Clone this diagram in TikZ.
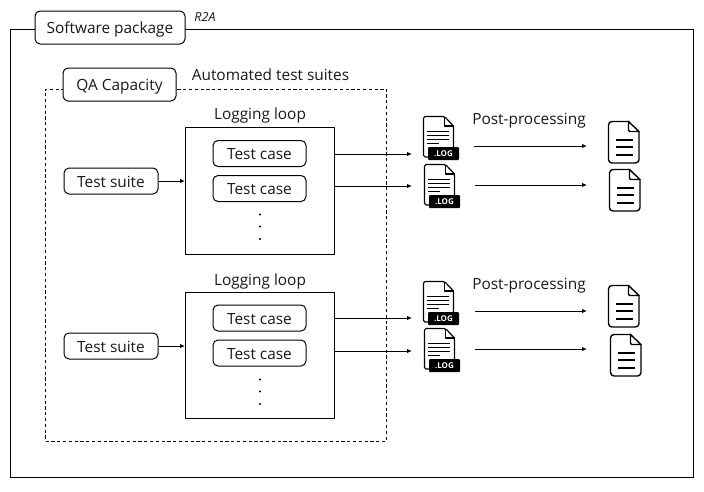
\documentclass[tikz,border=0pt]{standalone}
\usepackage{fontspec}
\setmainfont{Open Sans}
\usetikzlibrary{arrows.meta}
\tikzset{
  x=1pt,y=-1pt,
  every node/.style={font=\fontsize{15.4pt}{18pt}\selectfont,inner sep=0pt,text=black!90},
  lbl/.style={anchor=center,text height=12pt,text depth=0pt},
  roundbox/.style={draw=black,line width=1pt,rounded corners=5pt,fill=white,anchor=center,text height=12pt,text depth=0pt},
  framebox/.style={draw=black,line width=1pt,anchor=north west},
  conn/.style={draw=black,line width=1pt,-{Latex[length=5pt,width=4.5pt]}},
  logicon/.pic={
    \draw[line width=1.2pt,rounded corners=1.6pt,line join=round] (5,41) -- (0.5,41) -- (0.5,0.5) -- (21.5,0.5) -- (30.5,10) -- (30.5,32);
    \draw[line width=1.2pt,line join=round] (21.5,0.5) -- (21.5,10) -- (30.5,10);
    \foreach \yy/\xe in {15/26,19/26,23/26,27/16}{\draw[line width=1pt] (4,\yy) -- (\xe,\yy);}
    \fill[black,rounded corners=1pt] (5,31) rectangle (36,44);
    \node[text=white,font=\fontsize{8pt}{9pt}\selectfont\bfseries] at (20.5,38) {.LOG};
  },
  docicon/.pic={
    \draw[line width=1.4pt,rounded corners=3.5pt,line join=round] (21,0.5) -- (0.5,0.5) -- (0.5,42) -- (31,42) -- (31,10);
    \draw[line width=1.4pt,line join=round] (20.5,0.5) -- (31,10.5) -- (21.5,10.5) -- (20.5,9) -- cycle;
    \foreach \yy in {19,26,34}{\draw[line width=1.1pt] (8,\yy) -- (25,\yy);}
  }
}
\begin{document}
\begin{tikzpicture}
\useasboundingbox (0,0) rectangle (704,491);
\node[framebox,minimum width=683pt,minimum height=448pt] (outer) at (10,29) {};
\node[roundbox,minimum width=150pt,minimum height=33pt] (pkg) at (110,27.5) {Software package};
\node[lbl,text height=9pt,font=\fontsize{12.5pt}{14pt}\selectfont\itshape] (r2a) at (205,17) {R2A};
\node[framebox,dashed,dash pattern=on 3.2pt off 2.6pt,minimum width=341pt,minimum height=352pt] (qa) at (45,88.5) {};
\node[roundbox,minimum width=113pt,minimum height=33pt] (qacap) at (119.5,84.5) {QA Capacity};
\node[lbl] (auto) at (270.5,74) {Automated test suites};
%
\node[lbl] (ll1) at (260,113) {Logging loop};
\node[framebox,minimum width=149pt,minimum height=127pt] (loop1) at (185,127) {};
\node[roundbox,minimum width=93pt,minimum height=26pt] (tc1) at (259.5,153.5) {Test case};
\node[roundbox,minimum width=93pt,minimum height=26pt] (tc2) at (259.5,188.5) {Test case};
\node[roundbox,minimum width=94pt,minimum height=26pt] (ts1) at (111,181) {Test suite};
\fill (260,214.5) circle (1.1pt) (260,226.5) circle (1.1pt) (260,239) circle (1.1pt);
%
\node[lbl] (ll2) at (260,279) {Logging loop};
\node[framebox,minimum width=149pt,minimum height=126pt] (loop2) at (185,292) {};
\node[roundbox,minimum width=93pt,minimum height=26pt] (tc3) at (259.5,318) {Test case};
\node[roundbox,minimum width=93pt,minimum height=26pt] (tc4) at (259.5,353) {Test case};
\node[roundbox,minimum width=94pt,minimum height=26pt] (ts2) at (111,346) {Test suite};
\fill (260,379.5) circle (1.1pt) (260,391.5) circle (1.1pt) (260,404) circle (1.1pt);
%
\node[lbl] (pp1) at (529,118) {Post-processing};
\node[lbl] (pp2) at (529,283) {Post-processing};
%
\pic at (423,116) {logicon};
\pic at (424,164) {logicon};
\pic at (423,281) {logicon};
\pic at (424,328) {logicon};
\pic at (608,121) {docicon};
\pic at (609,169) {docicon};
\pic at (608,285) {docicon};
\pic at (610,334) {docicon};
%
\coordinate (l1) at (412,154); \coordinate (l2) at (412,186);
\coordinate (l3) at (412,318); \coordinate (l4) at (412,351);
\coordinate (p1s) at (474,146); \coordinate (p1e) at (587,146);
\coordinate (p2s) at (475,185); \coordinate (p2e) at (587,185);
\coordinate (p3s) at (475,311); \coordinate (p3e) at (587,311);
\coordinate (p4s) at (475,349); \coordinate (p4e) at (587,349);
\draw[conn] (ts1.east) -- (ts1.east -| loop1.west);
\draw[conn] (ts2.east) -- (ts2.east -| loop2.west);
\draw[conn] (l1 -| loop1.east) -- (l1);
\draw[conn] (l2 -| loop1.east) -- (l2);
\draw[conn] (l3 -| loop2.east) -- (l3);
\draw[conn] (l4 -| loop2.east) -- (l4);
\draw[conn] (p1s) -- (p1e);
\draw[conn] (p2s) -- (p2e);
\draw[conn] (p3s) -- (p3e);
\draw[conn] (p4s) -- (p4e);
\end{tikzpicture}
\end{document}
